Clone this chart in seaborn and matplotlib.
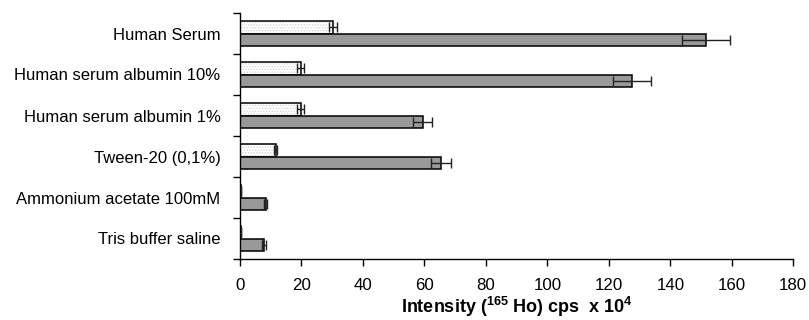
import matplotlib
matplotlib.use("Agg")
import matplotlib.pyplot as plt
import matplotlib.colors as mcolors
import seaborn as sns
import pandas as pd
import numpy as np

categories = ["Human Serum", "Human serum albumin 10%", "Human serum albumin 1%",
              "Tween-20 (0,1%)", "Ammonium acetate 100mM", "Tris buffer saline"]
series_names = ["A", "B"]
light_vals = [30.2, 19.7, 19.7, 11.6, 0.3, 0.3]
light_err = [1.3, 1.0, 1.0, 0.5, 0.1, 0.1]
dark_vals = [151.6, 127.4, 59.4, 65.3, 8.4, 7.8]
dark_err = [7.7, 6.2, 3.0, 3.3, 0.5, 0.5]
x_ticks = [0, 20, 40, 60, 80, 100, 120, 140, 160, 180]

sns.set_theme(style="white")
plt.rcParams["font.family"] = ["Liberation Sans", "DejaVu Sans"]
plt.rcParams["mathtext.fontset"] = "custom"
plt.rcParams["mathtext.rm"] = "Liberation Sans:bold"
plt.rcParams["mathtext.bf"] = "Liberation Sans:bold"
plt.rcParams["hatch.linewidth"] = 0.6
for k in ["text.color", "axes.labelcolor", "xtick.color", "ytick.color"]:
    plt.rcParams[k] = "black"

df = pd.DataFrame({
    "cat": categories * 2,
    "series": [series_names[0]] * len(categories) + [series_names[1]] * len(categories),
    "val": light_vals + dark_vals,
})

fig = plt.figure(figsize=(8.09, 3.2), dpi=100)
ax = fig.add_axes([240 / 809, 1 - 259 / 320, (793.3 - 240) / 809, (259 - 13) / 320])

sns.barplot(data=df, y="cat", x="val", hue="series", order=categories,
            hue_order=series_names, palette=["white", "#999999"], orient="h",
            width=0.62, gap=0, errorbar=None, legend=False, ax=ax,
            edgecolor="black", linewidth=1.1, saturation=1)

n = len(categories)
patches = [p for p in ax.patches if p.get_height() > 0][: 2 * n]
light_patches = patches[:n]
dark_patches = patches[n:]
for p in light_patches:
    p.set_hatch("......")
    p._hatch_color = mcolors.to_rgba("#d0d0d0")

for ps, vals, errs in [(light_patches, light_vals, light_err), (dark_patches, dark_vals, dark_err)]:
    ys = [p.get_y() + p.get_height() / 2 for p in ps]
    ax.errorbar(vals, ys, xerr=errs, fmt="none", ecolor="#222222", elinewidth=1.0,
                capsize=3.5, capthick=1.0, zorder=5)

ax.set_xlim(0, 180)
ax.set_ylim(n - 0.5, -0.5)
ax.set_xticks(x_ticks)
ax.set_xticklabels([str(t) for t in x_ticks], fontsize=12.2)
ax.set_yticks(range(n))
ax.set_yticklabels(categories, fontsize=12)
ax.tick_params(axis="y", which="major", left=False, length=0, pad=14)
ax.set_yticks(np.arange(-0.5, n, 1.0), minor=True)
ax.tick_params(axis="y", which="minor", left=True, length=5, width=1, color="black", direction="out")
ax.tick_params(axis="x", which="major", bottom=True, length=5, width=1, color="black", direction="out", pad=9)

ax.set_xlabel(r"Intensity ($^{165}$ Ho) cps  x 10$^{4}$", fontsize=13, fontweight="bold", labelpad=1)
ax.set_ylabel("")

for s in ["top", "right"]:
    ax.spines[s].set_visible(False)
for s in ["left", "bottom"]:
    ax.spines[s].set_color("black")
    ax.spines[s].set_linewidth(1.0)

fig.savefig("out.png", dpi=100)
